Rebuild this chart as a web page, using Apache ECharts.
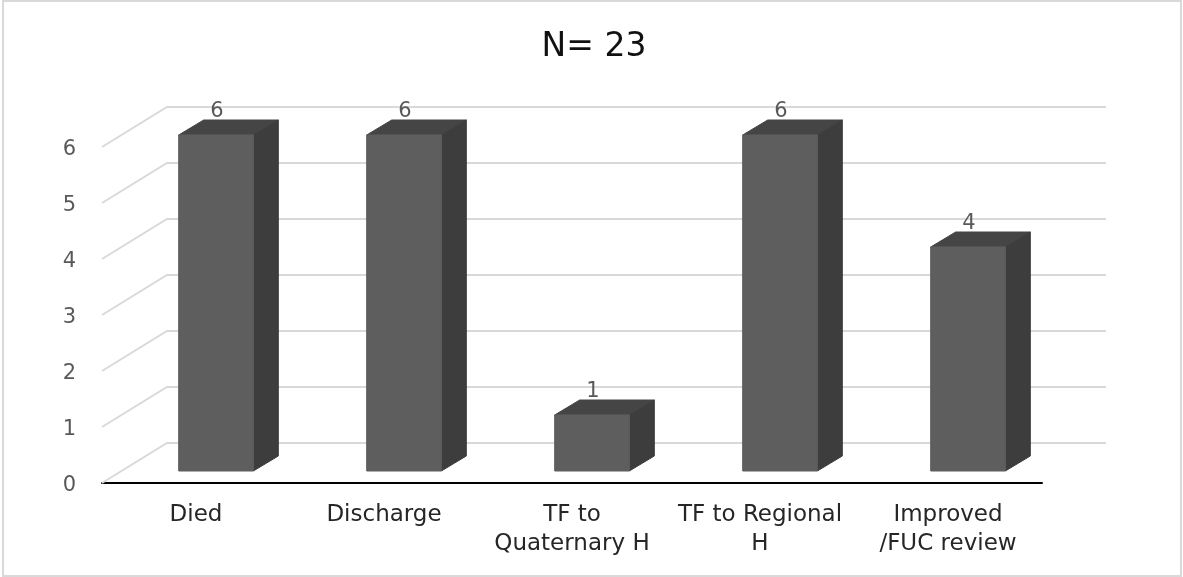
<!DOCTYPE html>
<html><head><meta charset="utf-8">
<style>html,body{margin:0;padding:0;background:#fff}#c{width:1183px;height:577px}</style>
<script src="https://cdn.jsdelivr.net/npm/echarts@6/dist/echarts.min.js"></script>
</head><body><div id="c"></div>
<script>
const categories = ['Died','Discharge','TF to\nQuaternary H','TF to Regional\nH','Improved\n/FUC review'];
const values = [6,6,1,6,4];
const ticks = [0,1,2,3,4,5,6];
const FONT = '"DejaVu Sans", sans-serif';
const wallDX = 65, wallDY = -40;   // depth of the chart floor
const barDX = 25, barDY = -15;     // depth of each bar
const barShiftX = 20, barShiftY = -12; // bar position inside the floor
const barFrac = 0.397;

const chart = echarts.init(document.getElementById('c'), null, {renderer:'canvas'});
chart.setOption({
  animation:false,
  backgroundColor:'#fff',
  title:{text:'N= 23',left:589,top:26,textAlign:'center',
    textStyle:{fontFamily:FONT,fontSize:33,fontWeight:'normal',color:'#111'}},
  graphic:[{type:'rect',silent:true,z:-1,shape:{x:3,y:1,width:1178,height:575},
    style:{fill:'none',stroke:'#d9d9d9',lineWidth:2}}],
  grid:{left:102,right:141,top:147,bottom:94},
  xAxis:{type:'category',data:categories,
    axisLine:{lineStyle:{color:'#000',width:2}},axisTick:{show:false},
    axisLabel:{interval:0,margin:18,fontFamily:FONT,fontSize:23,lineHeight:28.5,color:'#262626'}},
  yAxis:{type:'value',min:0,max:6,interval:1,
    axisLine:{show:false},axisTick:{show:false},splitLine:{show:false},
    axisLabel:{margin:26,verticalAlign:'top',lineHeight:28,padding:[-11,0,0,0],fontFamily:FONT,fontSize:21,color:'#595959'}},
  series:[
    {type:'custom',name:'wall',z:1,silent:true,clip:false,
     data:ticks.map(t=>[0,t]),encode:{x:0,y:1},
     renderItem(params,api){
       const cs=params.coordSys, y=api.coord([0,api.value(1)])[1];
       const x0=cs.x,x1=cs.x+cs.width;
       return {type:'polyline',shape:{points:[[x0,y],[x0+wallDX,y+wallDY],[x1+wallDX-1,y+wallDY]]},
         style:{fill:'none',stroke:'#d9d9d9',lineWidth:2}};
     }},
    {type:'custom',name:'bars',z:2,clip:false,
     data:values.map((v,i)=>[i,v]),encode:{x:0,y:1},
     renderItem(params,api){
       const i=api.value(0),v=api.value(1);
       const top=api.coord([i,v]),base=api.coord([i,0]);
       const w=api.size([1,0])[0]*barFrac;
       const l=top[0]-w/2+barShiftX,r=l+w;
       const t=top[1]+barShiftY,b=base[1]+barShiftY;
       const poly=(pts,c)=>({type:'polygon',shape:{points:pts},style:{fill:c,stroke:c,lineWidth:1}});
       return {type:'group',children:[
         poly([[l,t],[r,t],[r+barDX,t+barDY],[l+barDX,t+barDY]],'#454545'),
         poly([[r,t],[r+barDX,t+barDY],[r+barDX,b+barDY],[r,b]],'#3d3d3d'),
         poly([[l,t],[r,t],[r,b],[l,b]],'#5e5e5e'),
         {type:'text',z2:5,style:{text:String(v),x:(l+r)/2+1,y:t-23,align:'center',verticalAlign:'middle',
           fontFamily:FONT,fontSize:21,fill:'#595959'}}
       ]};
     }}
  ]
});
</script></body></html>
